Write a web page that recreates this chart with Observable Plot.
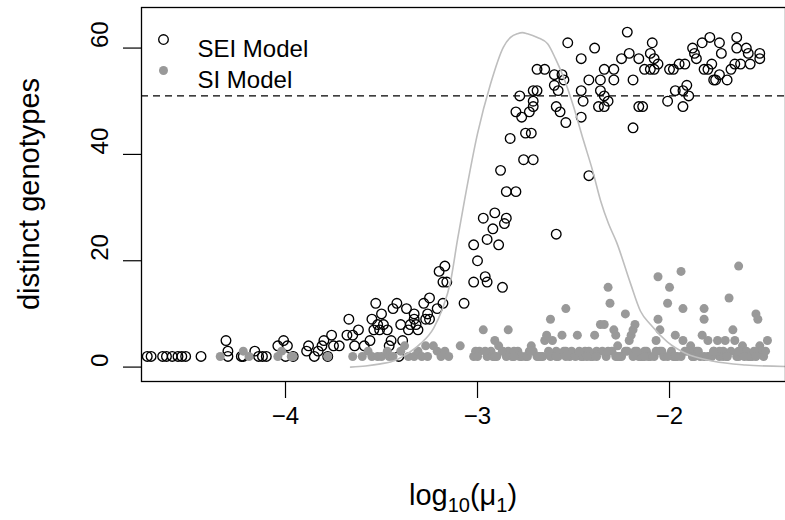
<!DOCTYPE html>
<html><head><meta charset="utf-8">
<script src="https://cdn.jsdelivr.net/npm/d3@7"></script>
<script src="https://cdn.jsdelivr.net/npm/@observablehq/plot@0.6"></script>
<style>body{margin:0;background:#fff} svg{display:block}</style>
</head><body><div id="chart"></div>
<script>
// SEI model: log10(mu1) and distinct genotypes
const seiX = [
-4.72,-4.70,-4.64,-4.62,-4.59,-4.56,-4.54,-4.52,-4.44,
-4.31,-4.30,-4.30,-4.23,-4.22,-4.16,-4.14,-4.12,-4.10,
-4.04,-4.01,-3.99,-4.00,-3.96,
-3.89,-3.88,-3.85,-3.83,-3.81,-3.80,-3.78,-3.76,-3.75,-3.72,
-3.68,-3.67,-3.65,-3.64,-3.62,-3.59,-3.56,-3.55,-3.54,-3.53,
-3.52,-3.51,-3.50,-3.49,-3.47,-3.46,-3.45,-3.44,-3.42,-3.41,
-3.40,-3.39,-3.37,-3.36,-3.35,-3.33,-3.33,-3.32,-3.31,-3.28,
-3.27,-3.26,-3.25,-3.25,-3.21,-3.18,-3.20,-3.17,-3.18,-3.16,
-3.07,-3.02,-3.02,-3.00,-2.97,-2.96,-2.95,-2.95,-2.92,-2.91,
-2.89,-2.87,-2.86,-2.85,-2.88,-2.85,-2.80,-2.83,-2.59,-2.42,
-2.80,-2.78,-2.77,-2.76,-2.75,-2.73,-2.72,-2.71,-2.71,-2.71,
-2.71,-2.69,-2.69,-2.65,-2.60,-2.60,-2.59,-2.58,-2.57,-2.56,
-2.55,-2.54,-2.53,-2.46,-2.46,-2.46,-2.45,-2.42,-2.39,-2.37,
-2.36,-2.36,-2.34,-2.34,-2.34,-2.32,-2.29,-2.29,-2.25,-2.22,
-2.21,-2.19,-2.19,-2.16,-2.16,-2.14,-2.13,-2.10,-2.10,-2.09,
-2.08,-2.08,-2.06,-2.01,-2.00,-1.98,-1.97,-1.95,-1.93,-1.93,
-1.92,-1.91,-1.90,-1.88,-1.87,-1.86,-1.83,-1.82,-1.80,-1.79,
-1.78,-1.77,-1.76,-1.74,-1.74,-1.73,-1.70,-1.68,-1.66,-1.65,
-1.65,-1.63,-1.60,-1.59,-1.58,-1.53,-1.53
];
const seiY = [
2,2,2,2,2,2,2,2,2,
5,3,2,2,2,3,2,2,2,
4,5,4,2,2,
3,4,2,3,4,5,2,6,4,4,
6,9,6,4,7,4,5,9,7,12,
8,7,10,8,7,4,5,11,12,2,
8,5,11,7,8,10,9,8,7,12,
9,10,13,9,11,12,18,19,16,16,
12,16,23,20,28,17,16,24,26,29,
23,15,27,28,37,33,33,43,25,36,
48,51,47,39,44,48,44,39,49,50,
52,52,56,56,55,53,49,52,48,55,
54,46,61,58,47,52,50,54,60,49,
52,54,49,51,56,50,54,56,58,63,
59,54,45,58,49,49,56,59,56,61,
58,56,57,50,56,56,52,57,52,49,
57,53,51,60,59,58,61,56,56,62,
57,54,54,61,55,59,54,56,57,62,
60,57,60,59,57,59,58
];
// SI model
const siX = [
-4.34,-4.22,-4.19,-4.04,-4.02,-3.97,-3.96,-3.78,-3.65,-3.60,
-3.57,-3.55,-3.52,-3.50,-3.47,-3.46,-3.44,-3.40,-3.38,-3.36,
-3.33,-3.31,-3.29,-3.27,-3.26,-3.23,-3.21,-3.19,-3.17,-3.15,
-3.09,-3.02,-2.99,-2.97,-2.93,-2.92,-2.91,-2.89,-2.87,-2.85,
-2.84,-2.84,-2.82,-2.79,-2.77,-2.75,-2.72,-2.71,-2.69,-2.67,
-2.65,-2.64,-2.62,-2.61,-2.59,-2.58,-2.56,-2.54,-2.54,-2.52,
-2.51,-2.48,-2.46,-2.44,-2.41,-2.39,-2.38,-2.36,-2.34,-2.33,
-2.32,-2.31,-2.30,-2.29,-2.28,-2.27,-2.26,-2.23,-2.23,-2.21,
-2.20,-2.19,-2.18,-2.18,-2.16,-2.14,-2.12,-2.10,-2.07,-2.06,
-2.06,-2.05,-2.05,-2.03,-2.01,-2.00,-1.99,-1.97,-1.96,-1.94,
-1.93,-1.93,-1.91,-1.89,-1.88,-1.86,-1.84,-1.83,-1.82,-1.82,
-1.80,-1.79,-1.77,-1.75,-1.74,-1.72,-1.71,-1.70,-1.69,-1.67,
-1.66,-1.65,-1.64,-1.62,-1.60,-1.58,-1.57,-1.55,-1.54,-1.53,
-1.52,-1.49,
-3.01,-2.95,-2.91,-2.81,-2.78,-2.73,-2.66,-2.62,-2.55,-2.49,
-2.45,-2.42,-2.40,-2.35,-2.28,-2.25,-2.22,-2.15,-2.13,-2.11,
-2.08,-2.04,-1.98,-1.94,-1.90,-1.87,-1.85,-1.80,-1.78,-1.74,
-1.72,-1.68,-1.64,-1.59,-1.56,-1.51,
-3.00,-2.96,-2.90,-2.87,-2.81,-2.74,-2.72,-2.68,-2.63,-2.59,
-2.54,-2.47,-2.43,-2.38,-2.32,-2.27,-2.19,-2.17,-2.13,-2.07,
-2.01,-1.97,-1.92,-1.88,-1.82,-1.77,-1.70,-1.64,-1.61,-1.55,
-1.50
];
const siY = [
2,3,2,2,3,2,2,2,2,2,
3,2,2,2,3,2,2,3,4,2,
2,3,2,4,2,4,3,2,3,2,
4,2,3,7,3,2,5,4,3,2,
7,3,2,3,2,2,4,3,2,2,
5,6,9,5,3,2,6,11,3,2,
3,6,2,3,2,6,3,8,8,2,
15,12,3,7,6,4,2,10,3,5,
6,7,8,3,2,2,3,2,5,17,
9,7,3,2,12,15,3,6,2,18,
11,5,3,4,2,3,2,6,11,9,
5,2,3,5,2,3,5,2,13,7,
5,2,19,4,3,2,2,10,9,4,
3,5,
3,2,2,3,2,3,2,2,3,2,
2,3,2,3,2,2,3,2,3,2,
2,3,2,2,3,2,3,2,2,3,
2,3,2,2,3,2,
2,3,2,3,2,2,3,2,3,2,
2,3,2,2,3,2,2,3,2,3,
2,2,3,2,2,3,2,3,2,2,
3
];
// grey reference curve
const curveX = [-3.661,-3.583,-3.505,-3.427,-3.375,-3.297,-3.229,-3.182,-3.141,-3.104,-3.068,-3.000,-2.932,-2.865,-2.828,-2.792,-2.766,-2.740,-2.688,-2.635,-2.594,-2.552,-2.500,-2.448,-2.401,-2.359,-2.318,-2.276,-2.203,-2.151,-2.099,-2.010,-1.917,-1.771,-1.604,-1.396];
const curveY = [0.0,0.2,0.6,1.3,2.3,4.4,7.3,11,16,24,31.3,43.9,53.3,60.2,62,62.7,62.9,62.7,62,60.8,58,54.5,49,42.6,37,31.3,27,23.5,15.7,10.5,8,4.7,2.6,1.1,0.4,0.1];
const thresholdY = [51];
const xTicks = [-4, -3, -2];
const yTicks = [0, 20, 40, 60];
const legendLabels = ["SEI Model", "SI Model"];
const yTitle = "distinct genotypes";

const sei = seiX.map((x, i) => ({x, y: seiY[i]}));
const si = siX.map((x, i) => ({x, y: siY[i]}));
const curve = curveX.map((x, i) => ({x, y: curveY[i]}));

const font = "'Liberation Sans', Arial, Helvetica, sans-serif";
const fs = 24;      // tick labels and legend
const fsLab = 29;   // axis titles
const minus = d => d < 0 ? "\u2212" + Math.abs(d) : String(d);

const chart = Plot.plot({
  width: 785, height: 520,
  marginLeft: 141, marginRight: 0, marginTop: 7, marginBottom: 139,
  style: {fontFamily: font, fontSize: fs + "px", background: "white", color: "black"},
  x: {domain: [-4.75, -1.396]},
  y: {domain: [-2.71, 67.63]},
  marks: [
    Plot.axisX({ticks: xTicks, tickSize: 17, tickPadding: 8, tickFormat: minus, fontSize: fs, label: null, strokeWidth: 1.2}),
    Plot.axisY({ticks: yTicks, tickSize: 18, tickFormat: () => "", label: null, strokeWidth: 1.2}),
    Plot.text(yTicks, {y: d => d, text: d => minus(d), frameAnchor: "left", dx: -41, rotate: -90, fontSize: fs, fill: "black"}),
    Plot.dot(sei, {x: "x", y: "y", r: 4.8, stroke: "black", strokeWidth: 1.35, fill: "none"}),
    Plot.dot(si, {x: "x", y: "y", r: 4.5, fill: "#999999", stroke: "none"}),
    Plot.line(curve, {x: "x", y: "y", stroke: "#bebebe", strokeWidth: 1.6, curve: "monotone-x", clip: true}),
    Plot.ruleY(thresholdY, {stroke: "black", strokeDasharray: "7,5", strokeWidth: 1.4}),
    Plot.dot([legendLabels[0]], {frameAnchor: "top-left", dx: 22, dy: 32, r: 4.8, stroke: "black", strokeWidth: 1.35, fill: "none"}),
    Plot.dot([legendLabels[1]], {frameAnchor: "top-left", dx: 22, dy: 63, r: 4.5, fill: "#999999", stroke: "none"}),
    Plot.text([legendLabels[0]], {text: d => d, frameAnchor: "top-left", dx: 56, dy: 32, textAnchor: "start", fontSize: fs, fill: "black"}),
    Plot.text([legendLabels[1]], {text: d => d, frameAnchor: "top-left", dx: 56, dy: 63, textAnchor: "start", fontSize: fs, fill: "black"}),
    Plot.frame({stroke: "black", strokeWidth: 1.3})
  ]
});
document.getElementById("chart").appendChild(chart);

const svg = d3.select(chart);
const xt = svg.append("text")
  .attr("x", (141 + 785) / 2).attr("y", 505)
  .attr("text-anchor", "middle")
  .attr("font-family", font).attr("font-size", fsLab).attr("fill", "black");
xt.append("tspan").text("log");
xt.append("tspan").attr("font-size", 20).attr("dy", 7).text("10");
xt.append("tspan").attr("dy", -7).text("(\u03bc");
xt.append("tspan").attr("font-size", 20).attr("dy", 7).text("1");
xt.append("tspan").attr("dy", -7).text(")");

svg.append("text")
  .attr("transform", `translate(39,${(7 + 381) / 2}) rotate(-90)`)
  .attr("text-anchor", "middle")
  .attr("font-family", font).attr("font-size", fsLab).attr("fill", "black")
  .text(yTitle);
</script>
</body></html>
